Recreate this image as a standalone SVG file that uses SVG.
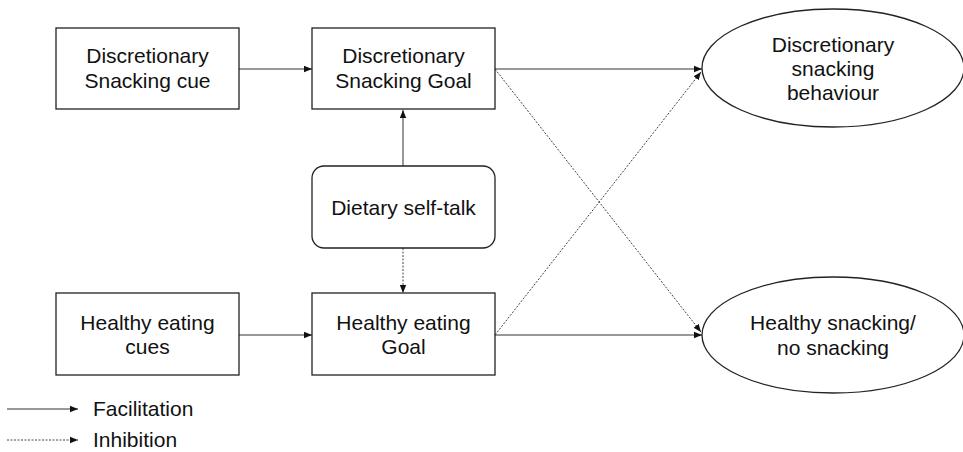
<svg xmlns="http://www.w3.org/2000/svg" width="963" height="452" viewBox="0 0 963 452">
<style>
.box{fill:#fff;stroke:#222;stroke-width:1.3}
.t{font-family:"Liberation Sans",Arial,sans-serif;font-size:21px;fill:#111;text-anchor:middle}
.lg{font-family:"Liberation Sans",Arial,sans-serif;font-size:21px;fill:#111}
.c{fill:none;stroke:#333;stroke-width:1}
.d{fill:none;stroke:#444;stroke-width:1;stroke-dasharray:2,1.5}
</style>
<defs>
<marker id="ah" viewBox="0 0 10 10" refX="10" refY="5" markerWidth="8" markerHeight="8" markerUnits="userSpaceOnUse" orient="auto">
<path d="M0,1 L10,5 L0,9 Z" fill="#111"/>
</marker>
</defs>
<rect width="963" height="452" fill="#fff"/>
<g id="connectors">
<line class="c" x1="239" y1="69" x2="312" y2="69" marker-end="url(#ah)"/>
<line class="c" x1="403" y1="166" x2="403" y2="110" marker-end="url(#ah)"/>
<line class="d" x1="403" y1="248" x2="403" y2="293" marker-end="url(#ah)"/>
<line class="c" x1="239" y1="335" x2="312" y2="335" marker-end="url(#ah)"/>
<line class="c" x1="495" y1="69" x2="702" y2="69" marker-end="url(#ah)"/>
<line class="d" x1="495" y1="69" x2="701" y2="332" marker-end="url(#ah)"/>
<line class="c" x1="495" y1="335" x2="702" y2="335" marker-end="url(#ah)"/>
<line class="d" x1="495" y1="335" x2="701" y2="72" marker-end="url(#ah)"/>
</g>
<g id="n1"><rect class="box" x="56" y="28" width="183" height="81"/>
<text class="t" x="147.5" y="63">Discretionary</text><text class="t" x="147.5" y="88">Snacking cue</text></g>
<g id="n2"><rect class="box" x="312" y="28" width="183" height="81"/>
<text class="t" x="403.5" y="63">Discretionary</text><text class="t" x="403.5" y="88">Snacking Goal</text></g>
<g id="n3"><rect class="box" x="312" y="166" width="183" height="82" rx="12"/>
<text class="t" x="403.5" y="215">Dietary self-talk</text></g>
<g id="n4"><rect class="box" x="56" y="293" width="183" height="82"/>
<text class="t" x="147.5" y="330">Healthy eating</text><text class="t" x="147.5" y="354">cues</text></g>
<g id="n5"><rect class="box" x="312" y="293" width="183" height="82"/>
<text class="t" x="403.5" y="330">Healthy eating</text><text class="t" x="403.5" y="354">Goal</text></g>
<g id="n6"><ellipse class="box" cx="833" cy="68" rx="131" ry="59"/>
<text class="t" x="833" y="52">Discretionary</text><text class="t" x="833" y="76">snacking</text><text class="t" x="833" y="100">behaviour</text></g>
<g id="n7"><ellipse class="box" cx="833" cy="335" rx="131" ry="58"/>
<text class="t" x="833" y="330">Healthy snacking/</text><text class="t" x="833" y="355">no snacking</text></g>
<g id="legend">
<line class="c" x1="7" y1="409" x2="78" y2="409" marker-end="url(#ah)"/>
<text class="lg" x="93" y="416">Facilitation</text>
<line class="d" x1="7" y1="440" x2="78" y2="440" marker-end="url(#ah)"/>
<text class="lg" x="93" y="447">Inhibition</text>
</g>
</svg>
